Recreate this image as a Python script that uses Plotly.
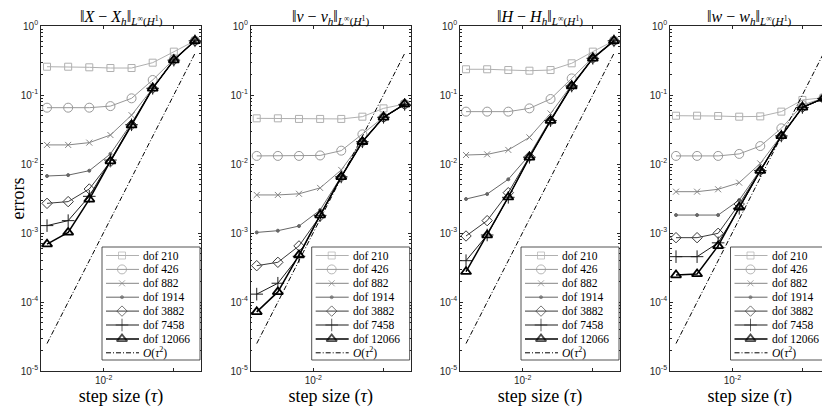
import plotly.graph_objects as go

tau = [0.0015625, 0.003125, 0.00625, 0.0125, 0.025, 0.05, 0.1, 0.2]
dofs = ["dof 210", "dof 426", "dof 882", "dof 1914", "dof 3882", "dof 7458", "dof 12066"]
ref_name = "<i>O</i>(<i>τ</i><sup>2</sup>)"
titles = ["‖<i>X</i> − <i>X<sub>h</sub></i>‖<sub><i>L</i><sup>∞</sup>(<i>H</i><sup>1</sup>)</sub>",
          "‖<i>ν</i> − <i>ν<sub>h</sub></i>‖<sub><i>L</i><sup>∞</sup>(<i>H</i><sup>1</sup>)</sub>",
          "‖<i>H</i> − <i>H<sub>h</sub></i>‖<sub><i>L</i><sup>∞</sup>(<i>H</i><sup>1</sup>)</sub>",
          "‖<i>w</i> − <i>w<sub>h</sub></i>‖<sub><i>L</i><sup>∞</sup>(<i>H</i><sup>1</sup>)</sub>"]
y_tickvals = [1e-5, 1e-4, 1e-3, 1e-2, 1e-1, 1]
y_ticktext = ["10<sup>-5</sup>", "10<sup>-4</sup>", "10<sup>-3</sup>", "10<sup>-2</sup>", "10<sup>-1</sup>", "10<sup>0</sup>"]
x_tickvals = [0.01, 0.1]
x_ticktext = ["10<sup>-2</sup>", ""]

err_X = [
    [0.257, 0.257, 0.252, 0.246, 0.246, 0.294, 0.425, 0.61],
    [0.0655, 0.0655, 0.0655, 0.069, 0.0895, 0.165, 0.33, 0.61],
    [0.0189, 0.0189, 0.0204, 0.0263, 0.051, 0.125, 0.32, 0.61],
    [6.7e-3, 6.9e-3, 8.0e-3, 0.014, 0.039, 0.125, 0.32, 0.61],
    [2.69e-3, 2.85e-3, 4.34e-3, 0.0108, 0.037, 0.125, 0.32, 0.61],
    [1.28e-3, 1.51e-3, 3.4e-3, 0.0114, 0.037, 0.125, 0.32, 0.61],
    [6.9e-4, 1.02e-3, 3.08e-3, 0.011, 0.0365, 0.125, 0.321, 0.61],
]
err_nu = [
    [0.0459, 0.0459, 0.045, 0.045, 0.045, 0.0485, 0.064, 0.074],
    [0.0131, 0.0131, 0.0131, 0.0133, 0.0156, 0.0269, 0.0475, 0.074],
    [3.56e-3, 3.56e-3, 3.7e-3, 4.5e-3, 8.2e-3, 0.0215, 0.0475, 0.073],
    [1.02e-3, 1.08e-3, 1.26e-3, 2.15e-3, 6.6e-3, 0.021, 0.0475, 0.073],
    [3.36e-4, 3.76e-4, 6.5e-4, 1.76e-3, 6.5e-3, 0.021, 0.0475, 0.073],
    [1.3e-4, 1.87e-4, 4.6e-4, 1.8e-3, 6.5e-3, 0.021, 0.0475, 0.073],
    [7.2e-5, 1.4e-4, 4.8e-4, 1.82e-3, 6.5e-3, 0.021, 0.0475, 0.074],
]
err_H = [
    [0.236, 0.236, 0.230, 0.225, 0.230, 0.288, 0.425, 0.61],
    [0.0574, 0.0574, 0.0574, 0.064, 0.0875, 0.174, 0.35, 0.61],
    [0.0135, 0.0138, 0.016, 0.0243, 0.054, 0.14, 0.34, 0.61],
    [3.11e-3, 3.67e-3, 6.0e-3, 0.0135, 0.0444, 0.137, 0.34, 0.61],
    [9.05e-4, 1.51e-3, 3.84e-3, 0.0128, 0.0425, 0.135, 0.34, 0.61],
    [3.97e-4, 9.35e-4, 3.29e-3, 0.0125, 0.0425, 0.135, 0.34, 0.61],
    [2.75e-4, 9.3e-4, 3.3e-3, 0.0125, 0.0425, 0.135, 0.34, 0.61],
]
err_w = [
    [0.0501, 0.0501, 0.0496, 0.0485, 0.049, 0.0574, 0.0847, 0.0915],
    [0.0131, 0.0131, 0.0131, 0.014, 0.0182, 0.0329, 0.0716, 0.09],
    [3.97e-3, 3.97e-3, 4.3e-3, 5.36e-3, 0.0102, 0.0255, 0.066, 0.089],
    [1.82e-3, 1.82e-3, 1.82e-3, 3.0e-3, 8.2e-3, 0.0255, 0.066, 0.089],
    [8.56e-4, 8.56e-4, 9.9e-4, 2.63e-3, 8.0e-3, 0.0255, 0.066, 0.089],
    [4.54e-4, 4.54e-4, 7.2e-4, 2.28e-3, 8.0e-3, 0.0255, 0.066, 0.089],
    [2.46e-4, 2.55e-4, 6.5e-4, 2.36e-3, 8.0e-3, 0.0255, 0.0663, 0.0895],
]
ref_tau = [0.0015625, 0.2]
ref_err = [2.5e-5, 0.4]

panels = [err_X, err_nu, err_H, err_w]

# ---- styles ----
colors = ["#b0b0b0", "#999999", "#858585", "#666666", "#3a3a3a", "#1c1c1c", "#000000"]
symbols = ["square-open", "circle-open", "x-thin-open", "circle", "diamond-open", "cross-thin-open", "triangle-up-open"]
msizes = [7, 9, 6, 3, 8, 9, 9]
lwidths = [1, 1, 1, 1, 1, 1, 1.5]
ref_dash = "5px,2px,1px,2px"

# the page body has an 8px margin: the paper is made smaller and all
# positions (measured on the 830x412 screen) are shifted by it
OFF = 8
W, Hh = 830 - OFF, 412 - OFF
def px_x(v):
    return (v - OFF) / W
def px_y(v):
    return 1 - (v - OFF) / Hh

x_px = [(41, 201), (250.7, 410.7), (460, 620), (670, 829.5)]
y_top, y_bot = 26, 371
ydom = [px_y(y_bot), px_y(y_top)]

# legend box geometry (screen px)
LW, LH = 98, 113
L_top, L_bot = 247, 360
row0, row_step = 8.5, 13.9
line_x = [4, 20, 37]
text_x = 39

serif = "Liberation Serif, Times New Roman, serif"
sans = "Liberation Sans, Arial, sans-serif"
axcol = "#262626"

fig = go.Figure()
annotations = []
for p, data in enumerate(panels):
    xa = "x" if p == 0 else f"x{p+1}"
    ya = "y" if p == 0 else f"y{p+1}"
    for i, name in enumerate(dofs):
        fig.add_trace(go.Scatter(
            x=tau, y=data[i], name=name, mode="lines+markers",
            xaxis=xa, yaxis=ya, showlegend=False,
            line=dict(color=colors[i], width=lwidths[i]),
            marker=dict(symbol=symbols[i], size=msizes[i], color=colors[i],
                        line=dict(color=colors[i], width=lwidths[i] + (0.3 if i == 6 else 0))),
        ))
    fig.add_trace(go.Scatter(
        x=ref_tau, y=ref_err, name=ref_name, mode="lines",
        xaxis=xa, yaxis=ya, showlegend=False,
        line=dict(color="black", width=1, dash=ref_dash),
    ))

# ---- custom legends (compact, like the reference) ----
for p in range(4):
    lx = f"x{p+5}"
    ly = f"y{p+5}"
    fig.add_trace(go.Scatter(
        x=[0, LW, LW, 0, 0], y=[0, 0, LH, LH, 0], mode="lines", fill="toself",
        fillcolor="white", line=dict(color=axcol, width=0.8),
        xaxis=lx, yaxis=ly, showlegend=False, hoverinfo="skip",
    ))
    for i, name in enumerate(dofs):
        yk = row0 + row_step * i
        fig.add_trace(go.Scatter(
            x=line_x, y=[yk] * 3, mode="lines+markers", xaxis=lx, yaxis=ly,
            showlegend=False, hoverinfo="skip",
            line=dict(color=colors[i], width=lwidths[i]),
            marker=dict(symbol=symbols[i], size=[0, msizes[i], 0], color=colors[i],
                        line=dict(color=colors[i], width=lwidths[i] + (0.3 if i == 6 else 0))),
        ))
        annotations.append(dict(text=name, x=text_x, y=yk, xref=lx, yref=ly,
                                xanchor="left", yanchor="middle", showarrow=False,
                                font=dict(family=serif, size=11.5, color="black")))
    yk = row0 + row_step * len(dofs)
    fig.add_trace(go.Scatter(
        x=[line_x[0], line_x[-1]], y=[yk, yk], mode="lines", xaxis=lx, yaxis=ly,
        showlegend=False, hoverinfo="skip",
        line=dict(color="black", width=1, dash=ref_dash),
    ))
    annotations.append(dict(text=ref_name, x=text_x, y=yk, xref=lx, yref=ly,
                            xanchor="left", yanchor="middle", showarrow=False,
                            font=dict(family=serif, size=11.5, color="black")))

layout = dict(
    width=W, height=Hh, margin=dict(l=0, r=0, t=0, b=0, autoexpand=False),
    paper_bgcolor="white", plot_bgcolor="rgba(0,0,0,0)",
    font=dict(family=serif, color="black"),
    showlegend=False,
)
minor_vals = [m * 10.0 ** e for e in range(-5, 0) for m in range(2, 10)]
for p in range(4):
    xk = "xaxis" if p == 0 else f"xaxis{p+1}"
    yk = "yaxis" if p == 0 else f"yaxis{p+1}"
    x0, x1 = x_px[p]
    layout[xk] = dict(
        type="log", range=[-2.892, -0.613], domain=[px_x(x0), min(px_x(x1), 1)],
        anchor="y" if p == 0 else f"y{p+1}", automargin=False,
        tickmode="array", tickvals=x_tickvals, ticktext=x_ticktext,
        ticks="inside", ticklen=3, tickcolor=axcol, tickwidth=0.8,
        showline=True, linecolor=axcol, linewidth=0.8, mirror="ticks",
        showgrid=False, zeroline=False,
        tickfont=dict(family=sans, size=10, color=axcol),
        title=dict(text="step size (<i>τ</i>)", font=dict(family=serif, size=18, color="black"), standoff=1),
    )
    layout[yk] = dict(
        type="log", range=[-5, 0], domain=ydom,
        anchor="x" if p == 0 else f"x{p+1}", automargin=False,
        tickmode="array", tickvals=y_tickvals, ticktext=y_ticktext,
        ticks="inside", ticklen=3, tickcolor=axcol, tickwidth=0.8,
        minor=dict(ticks="inside", ticklen=1.8, tickcolor=axcol, tickwidth=0.6,
                   tickmode="array", tickvals=minor_vals, showgrid=False),
        showline=True, linecolor=axcol, linewidth=0.8, mirror="allticks",
        showgrid=False, zeroline=False,
        tickfont=dict(family=sans, size=10, color=axcol),
    )
    # legend sub-axes
    layout[f"xaxis{p+5}"] = dict(domain=[px_x(x1 - 2 - LW), min(px_x(x1), 1)], range=[-1, LW + 1],
                                 anchor=f"y{p+5}", visible=False, fixedrange=True, automargin=False)
    layout[f"yaxis{p+5}"] = dict(domain=[px_y(L_bot + 1), px_y(L_top - 1)], range=[LH + 1, -1],
                                 anchor=f"x{p+5}", visible=False, fixedrange=True, automargin=False)

layout["yaxis"]["title"] = dict(text="errors", font=dict(family=serif, size=18, color="black"), standoff=5)

for p in range(4):
    x0, x1 = x_px[p]
    annotations.append(dict(
        text=titles[p], x=px_x((x0 + x1) / 2), y=px_y(28.5), xref="paper", yref="paper",
        xanchor="center", yanchor="bottom", showarrow=False, borderpad=0,
        font=dict(family=serif, size=16, color="black"),
    ))
layout["annotations"] = annotations

fig.update_layout(**layout)
fig.write_html("out.html")
